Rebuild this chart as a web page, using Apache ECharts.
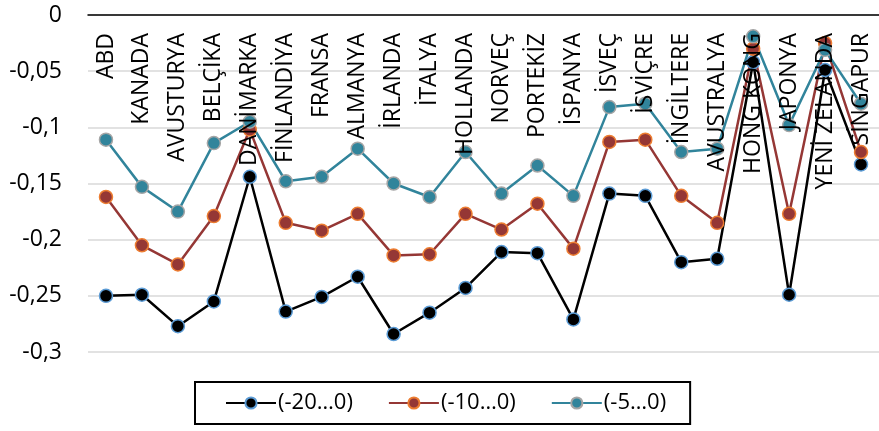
<!DOCTYPE html>
<html><head><meta charset="utf-8">
<script src="https://cdn.jsdelivr.net/npm/echarts@6/dist/echarts.min.js"></script>
<style>html,body{margin:0;padding:0;background:#fff}#c{width:879px;height:431px}</style>
</head><body><div id="c"></div>
<script>
const categories = ['ABD','KANADA','AVUSTURYA','BELÇİKA','DANİMARKA','FİNLANDİYA','FRANSA','ALMANYA','İRLANDA','İTALYA','HOLLANDA','NORVEÇ','PORTEKİZ','İSPANYA','İSVEÇ','İSVİÇRE','İNGİLTERE','AVUSTRALYA','HONG KONG','JAPONYA','YENİ ZELANDA','SİNGAPUR'];
const seriesNames = ['(-20…0)','(-10…0)','(-5…0)'];
const s20 = [-0.250,-0.249,-0.277,-0.255,-0.144,-0.264,-0.251,-0.233,-0.284,-0.265,-0.243,-0.211,-0.212,-0.271,-0.159,-0.161,-0.220,-0.217,-0.042,-0.249,-0.049,-0.133];
const s10 = [-0.162,-0.205,-0.222,-0.179,-0.102,-0.185,-0.192,-0.177,-0.214,-0.213,-0.177,-0.191,-0.168,-0.208,-0.113,-0.111,-0.161,-0.185,-0.030,-0.177,-0.025,-0.122];
const s5 = [-0.111,-0.153,-0.175,-0.114,-0.095,-0.148,-0.144,-0.119,-0.150,-0.162,-0.122,-0.159,-0.134,-0.161,-0.082,-0.079,-0.122,-0.119,-0.019,-0.098,-0.031,-0.079];
const yTicks = {min: -0.3, max: 0, interval: 0.05};

const FONT = '"Open Sans", "Noto Sans", sans-serif';
function mk(name, data, color, border){
  return {
    name, type:'line', data,
    symbol:'circle', symbolSize: 13,
    lineStyle:{color, width:2.5},
    itemStyle:{color, borderColor:border, borderWidth:1.5},
    emphasis:{disabled:true}, animation:false
  };
}
const chart = echarts.init(document.getElementById('c'), null, {renderer:'canvas'});
chart.setOption({
  animation:false,
  grid:{left:88, top:15, width:792, height:337, containLabel:false},
  xAxis:{
    type:'category', data:categories, position:'top', z:10,
    boundaryGap:true,
    axisLine:{show:true, lineStyle:{color:'#000', width:1.5}},
    axisTick:{show:false},
    axisLabel:{inside:true, rotate:90, interval:0, margin:18, color:'#000', fontSize:23, fontFamily:FONT},
    splitLine:{show:false}
  },
  yAxis:{
    type:'value', min:yTicks.min, max:yTicks.max, interval:yTicks.interval,
    axisLine:{show:false}, axisTick:{show:false},
    axisLabel:{margin:26, color:'#000', fontSize:23, fontFamily:FONT,
      formatter: v => String(+v.toFixed(2)).replace('.', ',')},
    splitLine:{show:true, lineStyle:{color:'#d9d9d9', width:1.5}}
  },
  legend:{
    data:seriesNames, left:195, top:382,
    padding:[10, 24, 10, 30], itemGap:35, itemWidth:50, itemHeight:14,
    borderColor:'#000', borderWidth:2,
    textStyle:{fontSize:22, fontFamily:FONT, color:'#000', padding:[0,0,0,-3]}
  },
  series:[
    mk(seriesNames[0], s20, '#000000', '#5b9bd5'),
    mk(seriesNames[1], s10, '#953735', '#ed7d31'),
    mk(seriesNames[2], s5, '#31849b', '#a5a5a5')
  ]
});
</script></body></html>
